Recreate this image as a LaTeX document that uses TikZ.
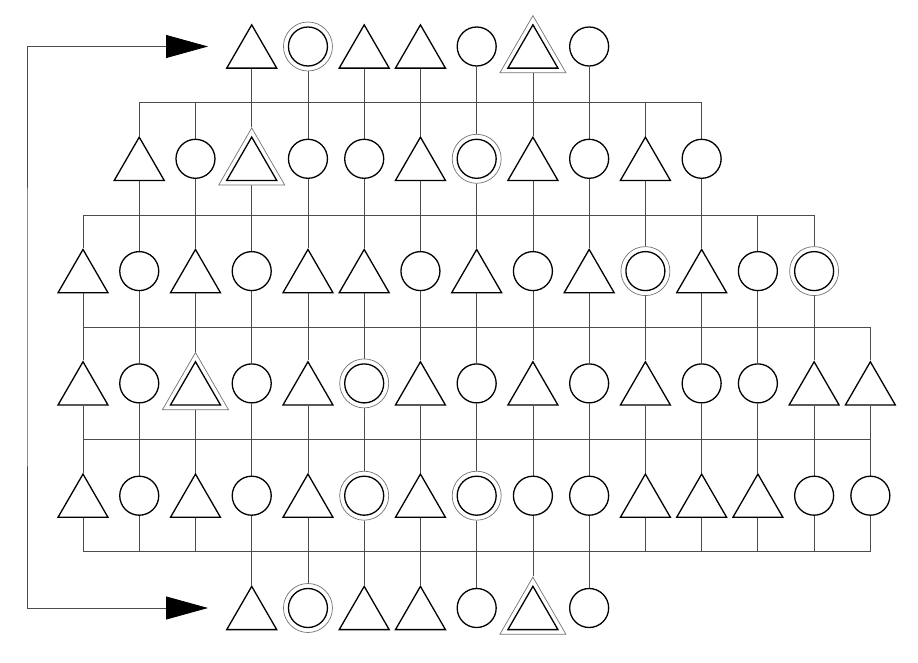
\documentclass[tikz,border=0pt]{standalone}
\usetikzlibrary{shapes.geometric,arrows.meta,backgrounds}

\tikzset{
	circ/.style={circle, draw, line width=1.3pt, fill=white, minimum size=39pt, inner sep=0pt},
	tri/.style={regular polygon, regular polygon sides=3, draw, line width=1.3pt, fill=white,
		minimum size=57.7pt, inner sep=0pt, yshift=-7.2pt},
	dcirc/.style={circle, draw=black!55, line width=0.7pt, fill=white, minimum size=49pt, inner sep=0pt,
		path picture={\draw[black, line width=1.3pt] (path picture bounding box.center) circle[radius=19.5pt];}},
	dtri/.style={regular polygon, regular polygon sides=3, draw=black!55, line width=0.7pt, fill=white,
		minimum size=76.2pt, inner sep=0pt, yshift=-7.2pt,
		path picture={\draw[black, line width=1.3pt] ([yshift=-9.5pt]path picture bounding box.center)
			++(90:28.87pt) -- ++(-120:50pt) -- ++(0:50pt) -- cycle;}},
	wire/.style={draw=black!70, line width=0.8pt},
}

\begin{document}
\begin{tikzpicture}[x=1pt, y=-1pt]
		\useasboundingbox (0, 0) rectangle (918, 663);
		
		% bus lines between the rows
		\foreach \r/\y in {1/102.6, 2/215, 3/327.2, 4/439.5, 5/551.8}
			\foreach \k in {1,...,15}
				\coordinate (b-\r-\k) at ({26.76+56.24*\k}, \y);
		
		% rows of cells
		\foreach \r/\y/\a/\cells in {
			0/46.5/4/{tri,dcirc,tri,tri,circ,dtri,circ},
			1/158.8/2/{tri,circ,dtri,circ,circ,tri,dcirc,tri,circ,tri,circ},
			2/271.1/1/{tri,circ,tri,circ,tri,tri,circ,tri,circ,tri,dcirc,tri,circ,dcirc},
			3/383.4/1/{tri,circ,dtri,circ,tri,dcirc,tri,circ,tri,circ,tri,circ,circ,tri,tri},
			4/495.7/1/{tri,circ,tri,circ,tri,dcirc,tri,dcirc,circ,circ,tri,tri,tri,circ,circ},
			5/608/4/{tri,dcirc,tri,tri,circ,dtri,circ}}
			\foreach \s [count=\k from \a] in \cells
				\node[\s] (n-\r-\k) at ({26.76+56.24*\k}, \y) {};
		
		\begin{pgfonlayer}{background}
			% each cell hangs on the bus above and below it
			\foreach \r/\a/\b in {0/4/10, 1/2/12, 2/1/14, 3/1/15, 4/1/15, 5/4/10}
				\foreach \k in {\a,...,\b} {
					\ifnum\r>0 \draw[wire] (n-\r-\k) -- (b-\r-\k); \fi
					\ifnum\r<5 \pgfmathtruncatemacro\q{\r+1} \draw[wire] (n-\r-\k) -- (b-\q-\k); \fi
				}
			\draw[wire] (b-1-2) -- (b-1-12);
			\draw[wire] (b-2-1) -- (b-2-14);
			\draw[wire] (b-3-1) -- (b-3-15);
			\draw[wire] (b-4-1) -- (b-4-15);
			\draw[wire] (b-5-1) -- (b-5-15);
		\end{pgfonlayer}
		
		% feedback from the last row to the first
		\coordinate (in-top) at (208, 46.5);
		\coordinate (in-bot) at (208, 608);
		\coordinate (back) at (27, 327);
		\draw[wire, {Triangle[length=42pt, width=23pt, color=black]}-{Triangle[length=42pt, width=23pt, color=black]}]
			(in-top) -| (back) |- (in-bot);
	\end{tikzpicture}
\end{document}
